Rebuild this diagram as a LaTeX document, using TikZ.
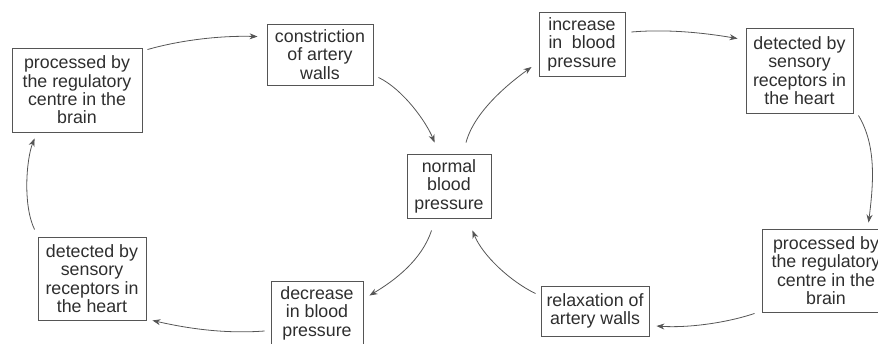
\documentclass[tikz,border=0pt]{standalone}
\usepackage{fontspec}
\setmainfont{Liberation Sans}
\usetikzlibrary{arrows.meta}
\definecolor{boxline}{HTML}{555555}
\definecolor{txt}{HTML}{2E2E2E}
\begin{document}
\begin{tikzpicture}[x=1pt,y=-1pt,
  box/.style={draw=boxline,line width=0.9pt,text=txt,align=center,inner sep=0pt,
    font=\fontsize{17.8}{18.4}\selectfont},
  arr/.style={draw=boxline,line width=0.8pt,-{Stealth[length=8pt,width=6pt]}}]
\useasboundingbox (0,0) rectangle (878,343);
\node[box,minimum width=130pt,minimum height=84pt] (A) at (77,90) {processed by\\the regulatory\\centre in the\\brain};
\node[box,minimum width=106pt,minimum height=61pt] (B) at (320,54.5) {constriction\\of artery\\walls};
\node[box,minimum width=84pt,minimum height=64pt] (C) at (449,186) {normal\\blood\\pressure};
\node[box,minimum width=86pt,minimum height=64pt] (D) at (582,44) {increase\\\makebox[67pt][s]{in blood}\\pressure};
\node[box,minimum width=107pt,minimum height=85pt] (E) at (799.5,70.5) {detected by\\sensory\\receptors in\\the heart};
\node[box,minimum width=128pt,minimum height=83pt] (F) at (826,270.5) {processed by\\the regulatory\\centre in the\\brain};
\node[box,minimum width=108pt,minimum height=50pt] (G) at (595,311) {relaxation of\\artery walls};
\node[box,minimum width=92pt,minimum height=64pt] (H) at (317,313) {decrease\\in blood\\pressure};
\node[box,minimum width=108pt,minimum height=83pt] (I) at (92,278.5) {detected by\\sensory\\receptors in\\the heart};
% connectors
\draw[arr] ([shift={(5,2)}]A.north east) .. controls +(35,-10) and +(-35,-1) .. ([shift={(-9,13)}]B.north west);
\draw[arr] ([shift={(5,-8)}]B.south east) .. controls +(25,12) and +(-8,-20) .. ([shift={(28,-11)}]C.north west);
\draw[arr] ([shift={(17,-11)}]C.north) .. controls +(8,-30) and +(-25,18) .. ([shift={(-7,23)}]D.west);
\draw[arr] ([shift={(6,-12)}]D.east) .. controls +(35,-3) and +(-35,-6) .. ([shift={(-8,11)}]E.north west);
\draw[arr] ([shift={(5,2)}]E.south east) .. controls +(18,30) and +(5,-40) .. ([shift={(107,-6)}]F.north west);
\draw[arr] ([shift={(-7,1)}]F.south west) .. controls +(-30,10) and +(30,2) .. ([shift={(7,15)}]G.east);
\draw[arr] ([shift={(-5,8)}]G.north west) .. controls +(-25,-12) and +(10,25) .. ([shift={(-19,12)}]C.south east);
\draw[arr] ([shift={(25,12)}]C.south west) .. controls +(-10,30) and +(25,-15) .. ([shift={(6,15)}]H.north east);
\draw[arr] ([shift={(-6,18)}]H.west) .. controls +(-40,3) and +(35,8) .. ([shift={(6,0)}]I.south east);
\draw[arr] ([shift={(-3,-7)}]I.north west) .. controls +(-12,-25) and +(-8,20) .. ([shift={(23,6)}]A.south west);
\end{tikzpicture}
\end{document}
